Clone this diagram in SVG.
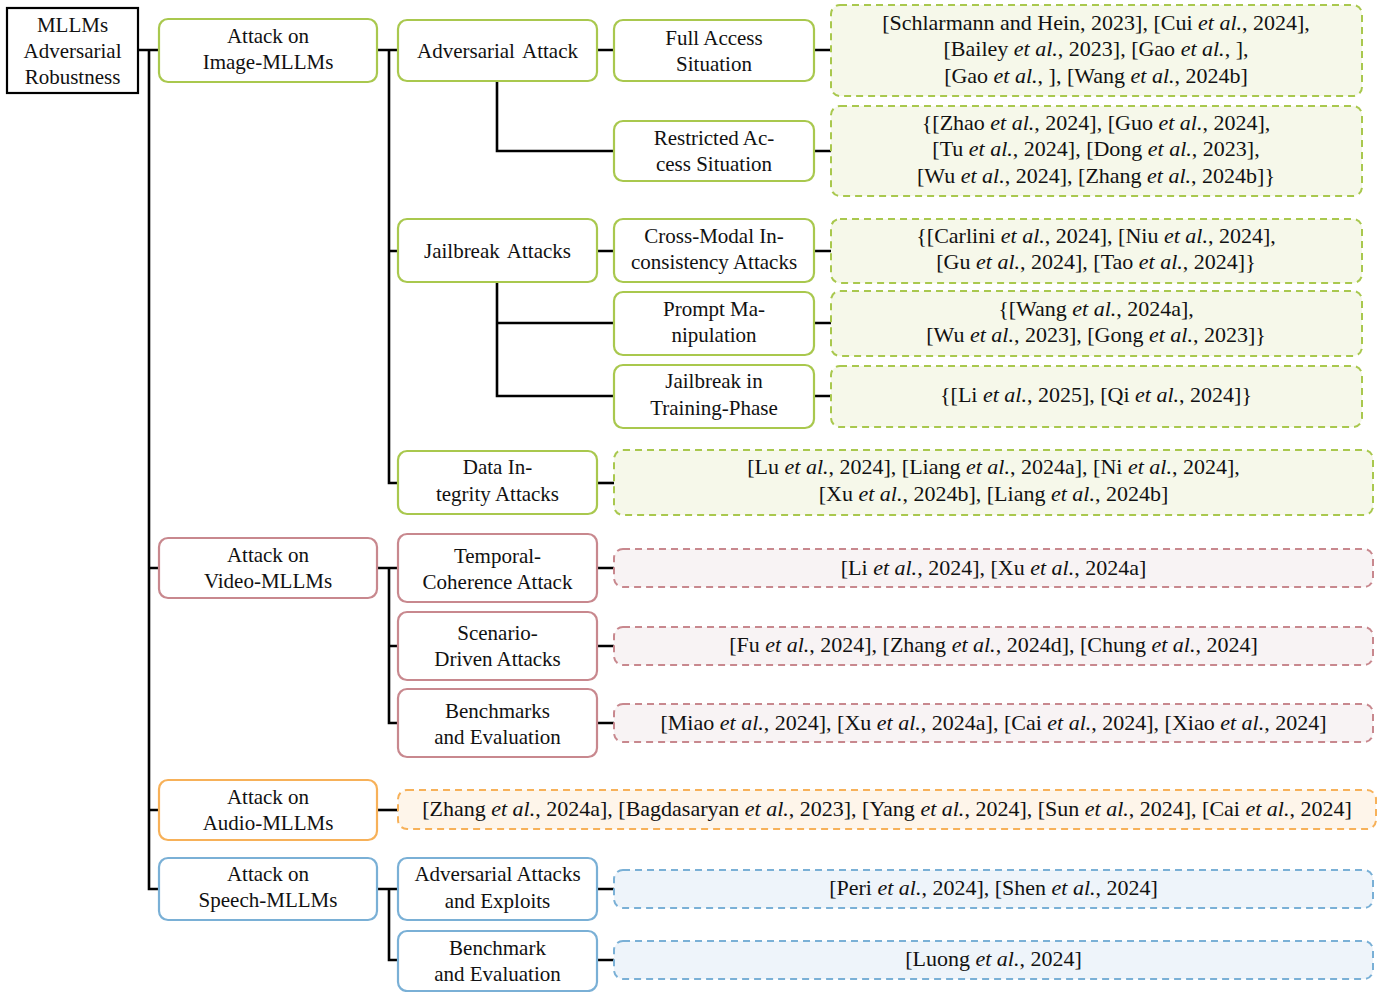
<svg xmlns="http://www.w3.org/2000/svg" width="1383" height="992" viewBox="0 0 1383 992">
<style>
text{font-family:"Liberation Serif","Times New Roman",serif;fill:#111;text-anchor:middle}
.n{font-size:21px}
.l{font-size:22px}
.i{font-style:italic}
.box{stroke-width:2.2}
.g{fill:#fff;stroke:#a9c84e}
.r{fill:#fff;stroke:#c8888e}
.o{fill:#fff;stroke:#f7b159}
.b{fill:#fff;stroke:#7ab0d6}
.lf{stroke-width:2;stroke-dasharray:7 5}
.gl{fill:#f6f8ea;stroke:#a9c84e}
.rl{fill:#f8f3f4;stroke:#c8888e}
.ol{fill:#fef5ea;stroke:#f7b159}
.bl{fill:#eef4fa;stroke:#7ab0d6}
.c{fill:none;stroke:#000;stroke-width:2.6}
</style>
<g id="connectors">
<path class="c" d="M138 50H159M149 50V889H159M149 568H159M149 810H159"/>
<path class="c" d="M377 50H398M389 50V483H398M389 251H398"/>
<path class="c" d="M597 50H614M497 81V151H614M814 50H831M814 151H831"/>
<path class="c" d="M597 251H614M497 282V396H614M497 323H614M814 251H831M814 323H831M814 396H831"/>
<path class="c" d="M597 483H614"/>
<path class="c" d="M377 568H398M389 568V723H398M389 646H398M597 568H614M597 646H614M597 723H614"/>
<path class="c" d="M377 810H398"/>
<path class="c" d="M377 889H398M389 889V960H398M597 889H614M597 960H614"/>
</g>
<g id="root">
<rect x="7" y="8" width="131" height="85" fill="#fff" stroke="#000" stroke-width="2.2"/>
<text class="n" x="72.5" y="32">MLLMs</text>
<text class="n" x="72.5" y="58">Adversarial</text>
<text class="n" x="72.5" y="84">Robustness</text>
</g>
<g id="image-mllms">
<rect class="box g" x="159" y="19" width="218" height="63" rx="9"/>
<text class="n" x="268" y="43">Attack on</text>
<text class="n" x="268" y="69">Image-MLLMs</text>
</g>
<g id="adversarial-attack">
<rect class="box g" x="398" y="20" width="199" height="61" rx="9"/>
<text class="n" x="497.5" y="58" word-spacing="3">Adversarial Attack</text>
</g>
<g id="full-access">
<rect class="box g" x="614" y="20" width="200" height="61" rx="9"/>
<text class="n" x="714" y="45">Full Access</text>
<text class="n" x="714" y="71">Situation</text>
</g>
<g id="full-access-refs">
<rect class="lf gl" x="831" y="5" width="531" height="91" rx="9"/>
<text class="l" x="1096" y="30">[Schlarmann and Hein, 2023], [Cui <tspan class="i">et al.</tspan>, 2024],</text>
<text class="l" x="1096" y="56">[Bailey <tspan class="i">et al.</tspan>, 2023], [Gao <tspan class="i">et al.</tspan>, ],</text>
<text class="l" x="1096" y="83">[Gao <tspan class="i">et al.</tspan>, ], [Wang <tspan class="i">et al.</tspan>, 2024b]</text>
</g>
<g id="restricted-access">
<rect class="box g" x="614" y="121" width="200" height="60" rx="9"/>
<text class="n" x="714" y="145">Restricted Ac-</text>
<text class="n" x="714" y="171">cess Situation</text>
</g>
<g id="restricted-access-refs">
<rect class="lf gl" x="831" y="106" width="531" height="90" rx="9"/>
<text class="l" x="1096" y="130">{[Zhao <tspan class="i">et al.</tspan>, 2024], [Guo <tspan class="i">et al.</tspan>, 2024],</text>
<text class="l" x="1096" y="156">[Tu <tspan class="i">et al.</tspan>, 2024], [Dong <tspan class="i">et al.</tspan>, 2023],</text>
<text class="l" x="1096" y="183">[Wu <tspan class="i">et al.</tspan>, 2024], [Zhang <tspan class="i">et al.</tspan>, 2024b]}</text>
</g>
<g id="jailbreak-attacks">
<rect class="box g" x="398" y="219" width="199" height="63" rx="9"/>
<text class="n" x="497.5" y="258" word-spacing="3">Jailbreak Attacks</text>
</g>
<g id="cross-modal">
<rect class="box g" x="614" y="219" width="200" height="63" rx="9"/>
<text class="n" x="714" y="243">Cross-Modal In-</text>
<text class="n" x="714" y="269">consistency Attacks</text>
</g>
<g id="cross-modal-refs">
<rect class="lf gl" x="831" y="219" width="531" height="64" rx="9"/>
<text class="l" x="1096" y="243">{[Carlini <tspan class="i">et al.</tspan>, 2024], [Niu <tspan class="i">et al.</tspan>, 2024],</text>
<text class="l" x="1096" y="269">[Gu <tspan class="i">et al.</tspan>, 2024], [Tao <tspan class="i">et al.</tspan>, 2024]}</text>
</g>
<g id="prompt-manipulation">
<rect class="box g" x="614" y="292" width="200" height="63" rx="9"/>
<text class="n" x="714" y="316">Prompt Ma-</text>
<text class="n" x="714" y="342">nipulation</text>
</g>
<g id="prompt-manipulation-refs">
<rect class="lf gl" x="831" y="291" width="531" height="65" rx="9"/>
<text class="l" x="1096" y="316">{[Wang <tspan class="i">et al.</tspan>, 2024a],</text>
<text class="l" x="1096" y="342">[Wu <tspan class="i">et al.</tspan>, 2023], [Gong <tspan class="i">et al.</tspan>, 2023]}</text>
</g>
<g id="jailbreak-training">
<rect class="box g" x="614" y="365" width="200" height="63" rx="9"/>
<text class="n" x="714" y="388">Jailbreak in</text>
<text class="n" x="714" y="415">Training-Phase</text>
</g>
<g id="jailbreak-training-refs">
<rect class="lf gl" x="831" y="366" width="531" height="61" rx="9"/>
<text class="l" x="1096" y="402">{[Li <tspan class="i">et al.</tspan>, 2025], [Qi <tspan class="i">et al.</tspan>, 2024]}</text>
</g>
<g id="data-integrity">
<rect class="box g" x="398" y="451" width="199" height="63" rx="9"/>
<text class="n" x="497.5" y="474">Data In-</text>
<text class="n" x="497.5" y="501">tegrity Attacks</text>
</g>
<g id="data-integrity-refs">
<rect class="lf gl" x="614" y="450" width="759" height="65" rx="9"/>
<text class="l" x="993.5" y="474">[Lu <tspan class="i">et al.</tspan>, 2024], [Liang <tspan class="i">et al.</tspan>, 2024a], [Ni <tspan class="i">et al.</tspan>, 2024],</text>
<text class="l" x="993.5" y="501">[Xu <tspan class="i">et al.</tspan>, 2024b], [Liang <tspan class="i">et al.</tspan>, 2024b]</text>
</g>
<g id="video-mllms">
<rect class="box r" x="159" y="538" width="218" height="60" rx="9"/>
<text class="n" x="268" y="562">Attack on</text>
<text class="n" x="268" y="588">Video-MLLMs</text>
</g>
<g id="temporal-coherence">
<rect class="box r" x="398" y="534" width="199" height="68" rx="9"/>
<text class="n" x="497.5" y="563">Temporal-</text>
<text class="n" x="497.5" y="589">Coherence Attack</text>
</g>
<g id="temporal-coherence-refs">
<rect class="lf rl" x="614" y="549" width="759" height="38" rx="9"/>
<text class="l" x="993.5" y="575">[Li <tspan class="i">et al.</tspan>, 2024], [Xu <tspan class="i">et al.</tspan>, 2024a]</text>
</g>
<g id="scenario-driven">
<rect class="box r" x="398" y="612" width="199" height="68" rx="9"/>
<text class="n" x="497.5" y="640">Scenario-</text>
<text class="n" x="497.5" y="666">Driven Attacks</text>
</g>
<g id="scenario-driven-refs">
<rect class="lf rl" x="614" y="627" width="759" height="38" rx="9"/>
<text class="l" x="993.5" y="652">[Fu <tspan class="i">et al.</tspan>, 2024], [Zhang <tspan class="i">et al.</tspan>, 2024d], [Chung <tspan class="i">et al.</tspan>, 2024]</text>
</g>
<g id="video-benchmarks">
<rect class="box r" x="398" y="689" width="199" height="68" rx="9"/>
<text class="n" x="497.5" y="718">Benchmarks</text>
<text class="n" x="497.5" y="744">and Evaluation</text>
</g>
<g id="video-benchmarks-refs">
<rect class="lf rl" x="614" y="704" width="759" height="38" rx="9"/>
<text class="l" x="993.5" y="730">[Miao <tspan class="i">et al.</tspan>, 2024], [Xu <tspan class="i">et al.</tspan>, 2024a], [Cai <tspan class="i">et al.</tspan>, 2024], [Xiao <tspan class="i">et al.</tspan>, 2024]</text>
</g>
<g id="audio-mllms">
<rect class="box o" x="159" y="780" width="218" height="60" rx="9"/>
<text class="n" x="268" y="804">Attack on</text>
<text class="n" x="268" y="830">Audio-MLLMs</text>
</g>
<g id="audio-refs">
<rect class="lf ol" x="398" y="790" width="978" height="39" rx="9"/>
<text class="l" x="887" y="816">[Zhang <tspan class="i">et al.</tspan>, 2024a], [Bagdasaryan <tspan class="i">et al.</tspan>, 2023], [Yang <tspan class="i">et al.</tspan>, 2024], [Sun <tspan class="i">et al.</tspan>, 2024], [Cai <tspan class="i">et al.</tspan>, 2024]</text>
</g>
<g id="speech-mllms">
<rect class="box b" x="159" y="858" width="218" height="62" rx="9"/>
<text class="n" x="268" y="881">Attack on</text>
<text class="n" x="268" y="907">Speech-MLLMs</text>
</g>
<g id="speech-adversarial">
<rect class="box b" x="398" y="858" width="199" height="62" rx="9"/>
<text class="n" x="497.5" y="881">Adversarial Attacks</text>
<text class="n" x="497.5" y="908">and Exploits</text>
</g>
<g id="speech-adversarial-refs">
<rect class="lf bl" x="614" y="870" width="759" height="38" rx="9"/>
<text class="l" x="993.5" y="895">[Peri <tspan class="i">et al.</tspan>, 2024], [Shen <tspan class="i">et al.</tspan>, 2024]</text>
</g>
<g id="speech-benchmark">
<rect class="box b" x="398" y="931" width="199" height="60" rx="9"/>
<text class="n" x="497.5" y="955">Benchmark</text>
<text class="n" x="497.5" y="981">and Evaluation</text>
</g>
<g id="speech-benchmark-refs">
<rect class="lf bl" x="614" y="941" width="759" height="38" rx="9"/>
<text class="l" x="993.5" y="966">[Luong <tspan class="i">et al.</tspan>, 2024]</text>
</g>
</svg>
